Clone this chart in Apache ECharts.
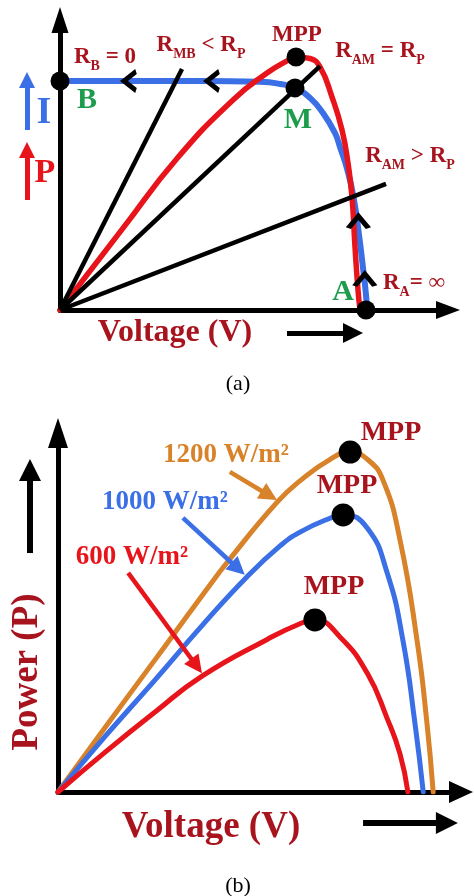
<!DOCTYPE html>
<html>
<head>
<meta charset="utf-8">
<script src="https://cdn.jsdelivr.net/npm/echarts@6/dist/echarts.min.js"></script>
<style>
  html, body { margin: 0; padding: 0; background: #fff; }
  #chart { width: 474px; height: 896px; }
</style>
</head>
<body>
<div id="chart"></div>
<script>
// ---- panel (a): I-V and P-V curve of a PV cell (normalised units) ----
var ivCurve = [[0, 75.6], [10, 75.6], [35, 75.6], [50, 75.3], [55, 74.6], [58.75, 73.3], [62.5, 70],
  [65.75, 65], [68.75, 58.4], [70, 53.8], [72, 45.5], [73.5, 36.3], [74.75, 24.8], [75.75, 13.9],
  [76.5, 5], [76.75, 0]];
var pvCurve = [[0, 0], [15.75, 27], [29.25, 50], [43.25, 69.3], [51.75, 78.2], [56.75, 82.2], [59, 83.5],
  [62.5, 83], [65, 80.2], [68, 70.3], [70.5, 59.4], [72, 48.5], [73, 37.3], [73.75, 20.8], [74.5, 6.6], [75, 0]];
// load lines, all start at origin
var loadLineEnds = [[30.5, 79.5], [65, 80.5], [81.5, 41.6]];
// B, MPP, M, A
var pointsA = [[0, 75.6], [59, 83.5], [58.75, 73.3], [76.5, 0]];
var leftChevrons = [[17.5, 75.6], [38.25, 75.6]];
var upChevrons = [[74.6, 29], [76.2, 9.9]];
// arrows: [from, to]
var iArrow = [[-8.25, 59.4], [-8.25, 75.9]];
var pArrow = [[-8.25, 36.3], [-8.25, 52.8]];
var vArrowA = [[56.75, -7.6], [73.25, -7.6]];

// ---- panel (b): P-V curves at three irradiances ----
var p1200 = [[0, 0], [11.3, 17.2], [23.4, 35.4], [34.7, 52.5], [41.4, 62.3], [52.8, 77.5], [58.3, 83.2],
  [65.5, 88.9], [70.4, 90.9], [74.5, 89], [78.3, 83.4], [82.4, 67.4], [86.5, 40.6], [88.9, 18.4], [90.4, 0]];
var p1000 = [[0, 0], [11.3, 14.8], [23.4, 30], [34.7, 44.5], [45.5, 57.5], [53.5, 65.8], [58.3, 69.5],
  [65.5, 73.2], [68.7, 74.1], [74.5, 70.6], [79.3, 58.6], [83.1, 40.6], [86, 18.4], [88, 0]];
var p600 = [[0, 0], [11.3, 10.6], [23.4, 21.4], [34.7, 31], [50.4, 40.8], [58.3, 45], [61.9, 46],
  [68, 41.4], [74.5, 31.8], [79.3, 19.7], [82.4, 10.2], [84.3, 0]];
var mppB = [[70.4, 90.9], [68.7, 74.1], [61.9, 46]];
var arrow1200 = [[41.4, 85.6], [50.9, 79.3]];
var arrow1000 = [[30.1, 73.3], [43.4, 59.7]];
var arrow600 = [[16.9, 58.6], [33.4, 33.7]];
var pArrowB = [[-6.75, 63.9], [-6.75, 86.1]];
var vArrowB = [[73.5, -8.3], [93.7, -8.3]];

var SERIF = '"Liberation Serif", "DejaVu Serif", serif';
var DARKRED = '#A8141E';
var BLUE = '#3B6FE6';
var RED = '#E8141B';
var ORANGE = '#D8822A';
var GREEN = '#1C9C4C';

var chart = echarts.init(document.getElementById('chart'));

function axis(grid, max, arrowSize) {
  return {
    gridIndex: grid, type: 'value', min: 0, max: max,
    axisLine: { show: true, onZero: false, lineStyle: { color: '#000', width: 5 },
      symbol: ['none', 'triangle'], symbolSize: arrowSize },
    axisTick: { show: false }, axisLabel: { show: false }, splitLine: { show: false }
  };
}

function curve(grid, data, color, width) {
  return {
    type: 'line', xAxisIndex: grid, yAxisIndex: grid, data: data,
    smooth: 0.5, showSymbol: false, silent: true,
    lineStyle: { color: color, width: width, cap: 'round' }
  };
}

function arrow(grid, pts, color, width, size) {
  return {
    type: 'lines', coordinateSystem: 'cartesian2d', xAxisIndex: grid, yAxisIndex: grid,
    clip: false, silent: true, z: 5,
    symbol: ['none', 'triangle'], symbolSize: size,
    lineStyle: { color: color, width: width, opacity: 1, curveness: 0 },
    data: [{ coords: pts }]
  };
}

var series = [
  curve(0, ivCurve, BLUE, 6),
  curve(0, pvCurve, RED, 5.5)
];
loadLineEnds.forEach(function (p) {
  series.push({
    type: 'line', xAxisIndex: 0, yAxisIndex: 0, data: [[0, 0], p], showSymbol: false, silent: true,
    lineStyle: { color: '#000', width: 4.5 }, z: 3
  });
});
series.push({
  type: 'scatter', xAxisIndex: 0, yAxisIndex: 0, data: leftChevrons, z: 4, silent: true,
  symbol: 'path://M12,0 L0,10 L12,20', symbolSize: [12, 19],
  itemStyle: { color: 'none', borderColor: '#000', borderWidth: 4.5, opacity: 1 }
});
series.push({
  type: 'scatter', xAxisIndex: 0, yAxisIndex: 0, data: upChevrons, z: 4, silent: true,
  symbol: 'path://M0,12 L10,0 L20,12', symbolSize: [20, 12],
  itemStyle: { color: 'none', borderColor: '#000', borderWidth: 4.5, opacity: 1 }
});
series.push({
  type: 'scatter', xAxisIndex: 0, yAxisIndex: 0, data: pointsA, z: 6, silent: true,
  symbolSize: 19, itemStyle: { color: '#000', opacity: 1 }
});
series.push(arrow(0, iArrow, BLUE, 5, 16));
series.push(arrow(0, pArrow, RED, 5, 16));
series.push(arrow(0, vArrowA, '#000', 5, 20));

series.push(curve(1, p1200, ORANGE, 5));
series.push(curve(1, p1000, BLUE, 5));
series.push(curve(1, p600, RED, 5));
series.push({
  type: 'scatter', xAxisIndex: 1, yAxisIndex: 1, data: mppB, z: 6, silent: true,
  symbolSize: 23, itemStyle: { color: '#000', opacity: 1 }
});
series.push(arrow(1, arrow1200, ORANGE, 4.5, 18));
series.push(arrow(1, arrow1000, BLUE, 4.5, 18));
series.push(arrow(1, arrow600, RED, 4.5, 18));
series.push(arrow(1, pArrowB, '#000', 6, 22));
series.push(arrow(1, vArrowB, '#000', 6, 22));

// rich text with subscripts
function richStyles(size, subSize, color) {
  return {
    m: { fontFamily: SERIF, fontWeight: 'bold', fontSize: size, fill: color,
      verticalAlign: 'bottom', lineHeight: size, padding: [0, 0, 5, 0] },
    s: { fontFamily: SERIF, fontWeight: 'bold', fontSize: subSize, fill: color,
      verticalAlign: 'bottom', lineHeight: subSize }
  };
}
function subLabel(x, y, text) {
  return {
    type: 'text', x: x, y: y, z: 100,
    style: { text: text, rich: richStyles(23, 14, DARKRED),
      align: 'center', verticalAlign: 'middle', textAlign: 'center', textVerticalAlign: 'middle' }
  };
}
function label(x, y, text, size, color, weight, rot) {
  return {
    type: 'text', x: x, y: y, z: 100, rotation: rot || 0,
    style: { text: text, fill: color, font: (weight || 'bold') + ' ' + size + 'px ' + SERIF,
      align: 'center', verticalAlign: 'middle', textAlign: 'center', textVerticalAlign: 'middle' }
  };
}

var graphics = [
  subLabel(105, 62, '{m|R}{s|B}{m| = 0}'),
  subLabel(201, 50, '{m|R}{s|MB}{m| < R}{s|P}'),
  subLabel(380, 56, '{m|R}{s|AM}{m| = R}{s|P}'),
  subLabel(410, 161, '{m|R}{s|AM}{m| > R}{s|P}'),
  subLabel(414, 288, '{m|R}{s|A}{m|= ∞}'),
  label(297, 35, 'MPP', 23, DARKRED),
  label(87, 100, 'B', 30, GREEN),
  label(298, 120, 'M', 30, GREEN),
  label(343, 292, 'A', 30, GREEN),
  label(44, 113, 'I', 38, BLUE),
  label(45, 173, 'P', 34, RED),
  label(175, 333, 'Voltage (V)', 32, DARKRED),
  label(238, 384, '(a)', 22, '#000', 'normal'),

  label(391, 433, 'MPP', 28, DARKRED),
  label(347, 486, 'MPP', 28, DARKRED),
  label(334, 587, 'MPP', 28, DARKRED),
  label(226, 455, '1200 W/m²', 27, ORANGE),
  label(165, 502, '1000 W/m²', 27, BLUE),
  label(132, 557, '600 W/m²', 27, RED),
  label(27, 672, 'Power (P)', 37, DARKRED, 'bold', Math.PI / 2),
  label(211, 827, 'Voltage (V)', 37, DARKRED),
  label(238, 886, '(b)', 22, '#000', 'normal')
];

chart.setOption({
  animation: false,
  backgroundColor: '#fff',
  grid: [
    { left: 60, top: 20, width: 388, height: 290 },
    { left: 58, top: 433, width: 403, height: 359 }
  ],
  xAxis: [axis(0, 97, [18, 24]), axis(1, 97.1, [22, 24])],
  yAxis: [axis(0, 95.7, [17, 26]), axis(1, 96, [20, 30])],
  series: series,
  graphic: graphics
});
</script>
</body>
</html>
